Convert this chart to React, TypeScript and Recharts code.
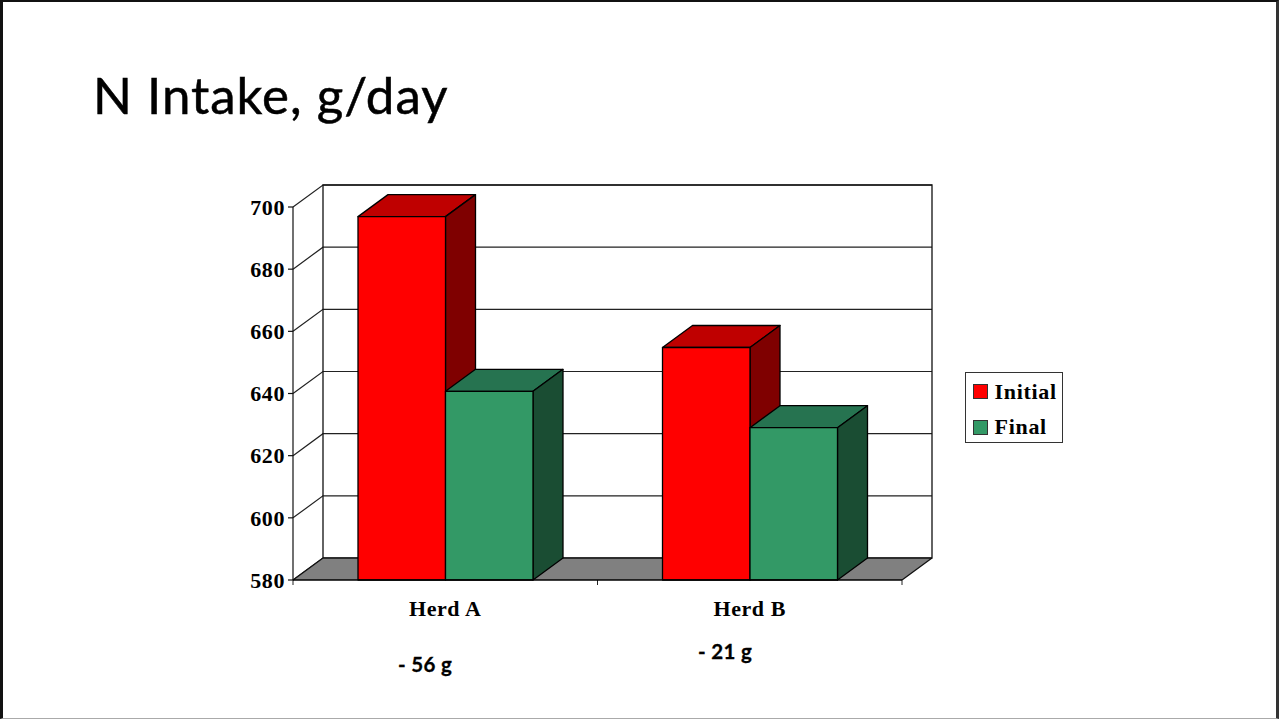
import { BarChart, Bar, XAxis, YAxis, CartesianGrid, Legend, ReferenceArea } from "recharts";

const herds = ["Herd A", "Herd B"];
const initialIntake = [696.9, 654.8];
const finalIntake = [640.7, 629];
const yTicks = [580, 600, 620, 640, 660, 680, 700];
const changes = ["- 56 g", "- 21 g"];

const data = herds.map((herd, i) => ({ herd, initial: initialIntake[i], final: finalIntake[i] }));

// how far the back of the box sits from the front
const DX = 30;
const DY = 22;
const SERIF = "'Liberation Serif', serif";
const SANS = "Lato, sans-serif";

const RED = { front: "#ff0000", top: "#bf0000", side: "#7f0000" };
const GREEN = { front: "#339966", top: "#267350", side: "#1a4d33" };

function Box3D({ x, y, width, height, colors }: any) {
  const r = x + width;
  const b = y + height;
  return (
    <g stroke="#000" strokeWidth={1.3} strokeLinejoin="round">
      <polygon points={`${x},${y} ${x + DX},${y - DY} ${r + DX},${y - DY} ${r},${y}`} fill={colors.top} />
      <polygon points={`${r},${y} ${r + DX},${y - DY} ${r + DX},${b - DY} ${r},${b}`} fill={colors.side} />
      <rect x={x} y={y} width={width} height={height} fill={colors.front} />
    </g>
  );
}

// back wall, side wall, floor and the tick marks between the herds
function Walls({ x, y, width, height }: any) {
  const b = y + height;
  const r = x + width;
  const edges = [x, x + width / 2, r];
  return (
    <g>
      <polygon
        points={`${x},${b} ${x + DX},${b - DY} ${r + DX},${b - DY} ${r},${b}`}
        fill="#808080"
        stroke="none"
      />
      <path
        d={`M${x + DX},${y - DY} H${r + DX} V${b - DY} H${x + DX} Z M${x + DX},${b - DY} L${x},${b} M${r + DX},${b - DY} L${r},${b}`}
        fill="none"
        stroke="#111"
        strokeWidth={1.3}
      />
      {edges.map((e) => (
        <line key={e} x1={e} y1={b} x2={e} y2={b + 5} stroke="#222" strokeWidth={1} />
      ))}
    </g>
  );
}

function GridLine({ x1, y1, x2, y2 }: any) {
  return (
    <path
      d={`M${x1},${y1} L${x1 + DX},${y1 - DY} H${x2 + DX}`}
      fill="none"
      stroke="#222"
      strokeWidth={1.2}
    />
  );
}

function LegendBox() {
  const rows = [
    { name: "Initial", color: RED.front },
    { name: "Final", color: GREEN.front },
  ];
  return (
    <div
      style={{
        width: 98,
        height: 71,
        boxSizing: "border-box",
        border: "1px solid #333",
        background: "#fff",
        paddingTop: 5,
        paddingLeft: 7,
      }}
    >
      {rows.map((row) => (
        <div key={row.name} style={{ display: "flex", alignItems: "center", height: 35.5 }}>
          <span
            style={{
              width: 15,
              height: 15,
              background: row.color,
              border: "1px solid #333",
              boxSizing: "border-box",
              marginRight: 7,
              marginTop: -8,
            }}
          />
          <span
            style={{
              font: `bold 22px ${SERIF}`,
              color: "#000",
              letterSpacing: 0.7,
              marginTop: -8,
            }}
          >
            {row.name}
          </span>
        </div>
      ))}
    </div>
  );
}

const tickFont = { fontFamily: SERIF, fontWeight: 700, fontSize: 22, letterSpacing: 0.6, fill: "#000" };

export default function App() {
  return (
    <div
      style={{
        position: "absolute",
        left: 0,
        top: 0,
        width: 1279,
        height: 719,
        background: "#fff",
        overflow: "hidden",
        boxSizing: "border-box",
        borderTop: "2px solid #111",
        borderLeft: "3px solid #111",
        borderRight: "3px solid #333",
        borderBottom: "1px solid #aaa",
      }}
    >
      <div style={{ position: "absolute", left: 0, top: 0 }}>
        <BarChart
          width={1273}
          height={716}
          data={data}
          barSize={87.5}
          barGap={0}
          margin={{ top: 205, right: 276, bottom: 98, left: 230 }}
        >
          <CartesianGrid vertical={false} horizontal={(p: any) => <GridLine key={p.key} {...p} />} />
          <ReferenceArea y1={580} y2={700} shape={<Walls />} fill="none" />
          <XAxis
            dataKey="herd"
            height={40}
            stroke="#000"
            strokeWidth={1.3}
            tickLine={false}
            tickMargin={14}
            tick={tickFont}
          />
          <YAxis
            width={60}
            domain={[580, 700]}
            ticks={yTicks}
            interval={0}
            stroke="#111"
            strokeWidth={1.2}
            tickSize={5}
            tickMargin={3}
            tick={tickFont}
          />
          <Legend
            layout="vertical"
            align="right"
            verticalAlign="middle"
            content={<LegendBox />}
            wrapperStyle={{ left: 961.5, top: 370, right: "auto", bottom: "auto", width: 98 }}
          />
          <Bar dataKey="initial" name="Initial" isAnimationActive={false} shape={(p: any) => <Box3D {...p} colors={RED} />} />
          <Bar dataKey="final" name="Final" isAnimationActive={false} shape={(p: any) => <Box3D {...p} colors={GREEN} />} />
        </BarChart>
      </div>
      <div style={{ position: "absolute", left: 90, top: 62, font: `400 51px ${SANS}`, letterSpacing: 1, WebkitTextStroke: "0.5px #000", color: "#000" }}>
        N Intake, g/day
      </div>
      <div style={{ position: "absolute", left: 395, top: 650, font: `700 20.5px ${SANS}`, letterSpacing: 0.3, WebkitTextStroke: "0.3px #000", color: "#000" }}>
        {changes[0]}
      </div>
      <div style={{ position: "absolute", left: 695, top: 637, font: `700 20.5px ${SANS}`, letterSpacing: 0.3, WebkitTextStroke: "0.3px #000", color: "#000" }}>
        {changes[1]}
      </div>
    </div>
  );
}
